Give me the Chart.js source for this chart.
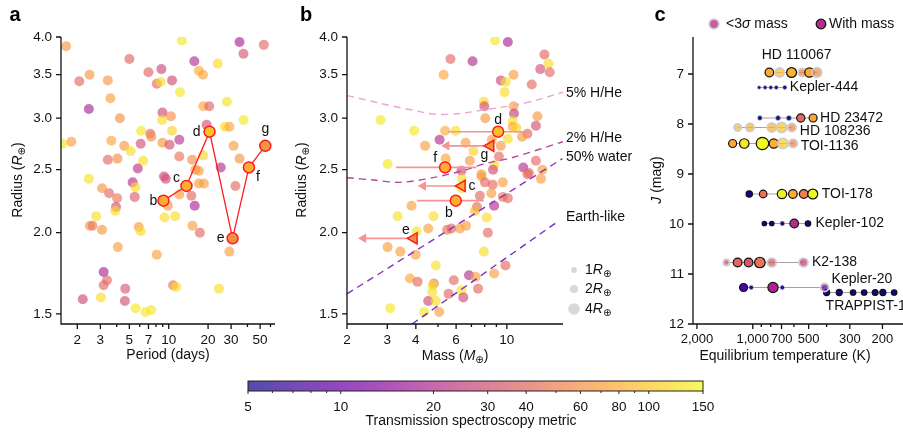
<!DOCTYPE html>
<html>
<head>
<meta charset="utf-8">
<script src="https://cdn.jsdelivr.net/npm/chart.js@4.4.1/dist/chart.umd.min.js"></script>
<style>
  html, body { margin: 0; padding: 0; background: #fff; }
  #wrap { position: relative; width: 903px; height: 435px; overflow: hidden; background: #fff; }
  canvas { position: absolute; }
</style>
</head>
<body>
<div id="wrap">
  <canvas id="chartA" width="290" height="365" style="left:0;top:0"></canvas>
  <canvas id="chartB" width="350" height="365" style="left:290px;top:0"></canvas>
  <canvas id="chartC" width="273" height="365" style="left:630px;top:0"></canvas>
  <canvas id="chartBar" width="500" height="70" style="left:230px;top:365px"></canvas>
</div>
<script>
// ---- panel a: period vs radius of known planets
const aPeriod = [
    1.64, 12.6, 34.8, 53.4, 37.3, 5.0, 15.7, 23.7, 7.0, 8.8,
    2.48, 2.07, 3.42, 10.6, 17.0, 18.3, 8.1, 8.7, 12.2, 3.58,
    27.9, 2.45, 18.4, 20.4, 8.96, 10.4, 4.23, 8.9, 19.5, 37.4,
    26.9, 29.1, 1.54, 1.80, 6.15, 7.23, 7.35, 10.6, 3.64, 4.57,
    5.11, 6.1, 8.96, 10.15, 12.05, 31.3, 3.42, 4.05, 6.38, 5.8,
    12.05, 15.1, 18.3, 34.8, 25.0, 16.0, 2.45, 5.3, 5.56, 3.09,
    3.50, 4.03, 5.49, 3.95, 3.9, 2.79, 2.49, 2.61, 3.09, 5.9,
    6.1, 4.08, 8.1, 3.18, 3.37, 3.18, 2.2, 3.03, 4.65, 4.62,
    5.58, 6.65, 7.35, 10.8, 11.4, 24.2, 29.1, 17.3, 15.2, 11.2,
    9.28, 9.85, 12.05, 14.9, 15.8, 17.0, 18.6, 32.4, 9.2, 9.5,
    17.0
];
const aRadius = [
    3.87, 3.95, 3.93, 3.89, 3.77, 3.70, 3.67, 3.64, 3.53, 3.57,
    3.50, 3.42, 3.43, 3.43, 3.55, 3.50, 3.39, 3.41, 3.29, 3.22,
    3.18, 3.10, 3.13, 3.13, 3.06, 3.02, 3.00, 2.98, 2.93, 2.98,
    2.91, 2.91, 2.74, 2.76, 2.87, 2.84, 2.81, 2.87, 2.77, 2.72,
    2.67, 2.74, 2.75, 2.73, 2.78, 2.72, 2.59, 2.60, 2.58, 2.51,
    2.62, 2.59, 2.63, 2.60, 2.52, 2.50, 2.42, 2.39, 2.35, 2.34,
    2.30, 2.26, 2.27, 2.19, 2.16, 2.12, 2.05, 2.05, 2.02, 2.04,
    2.01, 1.90, 1.85, 1.74, 1.69, 1.66, 1.58, 1.59, 1.64, 1.57,
    1.53, 1.51, 1.52, 1.66, 1.65, 1.64, 1.87, 2.00, 2.05, 2.12,
    2.11, 2.20, 2.29, 2.28, 2.20, 2.38, 2.38, 2.36, 2.44, 2.42,
    2.49
];
const aTsm = [
    65, 130, 18, 40, 32, 38, 20, 120, 38, 28,
    65, 40, 65, 28, 80, 75, 40, 120, 130, 70,
    125, 18, 75, 38, 28, 60, 60, 120, 30, 130,
    120, 75, 130, 70, 130, 40, 60, 110, 75, 65,
    120, 30, 65, 30, 22, 70, 40, 60, 120, 22,
    45, 60, 110, 65, 20, 65, 125, 20, 120, 65,
    40, 45, 35, 30, 120, 120, 70, 45, 65, 65,
    120, 70, 70, 18, 40, 40, 28, 120, 33, 30,
    130, 130, 130, 45, 120, 120, 70, 40, 70, 120,
    120, 65, 70, 40, 18, 70, 70, 40, 28, 30,
    70
];

// ---- HD 110067 planets
const hdLetters = ['b', 'c', 'd', 'e', 'f', 'g'];
const hdPeriod = [9.11, 13.67, 20.52, 30.79, 41.06, 54.77];
const hdRadius = [2.24, 2.36, 2.86, 1.96, 2.52, 2.72];
const hdTsm = [80, 80, 95, 60, 80, 65];
const hdMass = [5.98, 6.36, 9.16, 3.92, 5.37, 8.48];
const hdMassLo = [4.05, 4.31, 5.54, 2.36, 3.27, 5.45];
const hdMassHi = [7.93, null, 12.8, null, 7.37, null];
const hdUpper = [false, true, false, true, false, true];

// ---- panel b: mass vs radius
const bMass = [
    8.88, 10.1, 14.6, 15.2, 5.67, 7.08, 14.0, 15.4, 5.29, 9.41,
    9.89, 10.7, 12.85, 9.78, 2.80, 7.93, 7.97, 8.05, 10.7, 10.75,
    10.6, 10.6, 11.0, 13.6, 13.4, 12.3, 11.66, 10.1, 3.93, 5.37,
    5.97, 5.08, 4.39, 6.6, 7.14, 5.4, 3.01, 6.89, 9.23, 9.4,
    8.6, 13.4, 14.3, 11.8, 8.8, 8.7, 6.33, 7.74, 12.5, 6.36,
    6.33, 7.74, 8.02, 8.67, 8.55, 9.6, 9.6, 10.1, 8.8, 7.62,
    7.4, 7.25, 8.17, 3.83, 3.33, 4.78, 4.04, 4.53, 5.48, 5.72,
    6.23, 6.63, 8.26, 3.01, 3.42, 3.99, 7.93, 4.89, 9.86, 8.8,
    6.83, 7.3, 3.77, 4.07, 4.80, 4.74, 4.72, 5.86, 5.56, 6.33,
    7.48, 6.45, 4.53, 4.89, 5.06, 4.35, 3.09, 12.3, 14.1
];
const bRadius = [
    3.95, 3.93, 3.76, 3.64, 3.70, 3.67, 3.57, 3.53, 3.50, 3.43,
    3.41, 3.50, 3.38, 3.29, 2.98, 3.18, 3.13, 3.00, 3.13, 3.05,
    2.97, 2.91, 2.90, 3.02, 2.92, 2.84, 2.81, 2.79, 2.87, 2.87,
    2.87, 2.78, 2.72, 2.75, 2.67, 2.60, 2.55, 2.58, 2.62, 2.72,
    2.78, 2.58, 2.50, 2.52, 2.54, 2.50, 2.49, 2.46, 2.47, 2.42,
    2.34, 2.44, 2.39, 2.37, 2.30, 2.39, 2.27, 2.26, 2.20, 2.28,
    2.19, 2.16, 2.11, 2.20, 2.12, 2.12, 2.01, 2.03, 2.02, 2.03,
    2.03, 2.05, 2.00, 1.90, 1.87, 1.85, 1.87, 1.78, 1.78, 1.73,
    1.72, 1.71, 1.70, 1.68, 1.67, 1.66, 1.62, 1.69, 1.61, 1.63,
    1.64, 1.59, 1.57, 1.57, 1.51, 1.51, 1.53, 2.46, 2.42
];
const bTsm = [
    130, 18, 38, 120, 40, 20, 30, 40, 75, 28,
    120, 70, 40, 120, 130, 120, 30, 65, 70, 24,
    120, 75, 110, 65, 30, 40, 65, 120, 130, 80,
    120, 20, 70, 70, 110, 75, 130, 65, 40, 65,
    70, 40, 70, 20, 120, 28, 28, 70, 40, 120,
    120, 70, 40, 40, 70, 70, 45, 40, 20, 40,
    40, 90, 120, 70, 125, 120, 125, 70, 45, 40,
    70, 70, 40, 70, 70, 70, 120, 120, 40, 70,
    20, 70, 75, 40, 45, 120, 120, 40, 40, 120,
    40, 28, 28, 120, 70, 130, 130, 40, 70
];

// composition curves (mass, radius)
const h5Mass = [2.0, 3.65, 5.27, 8.42, 12.2, 17.6];
const h5Radius = [3.25, 3.10, 3.04, 3.10, 3.17, 3.29];
const h2Mass = [2.0, 2.61, 3.41, 4.76, 6.67, 7.88, 10.6, 17.6];
const h2Radius = [2.43, 2.41, 2.39, 2.43, 2.50, 2.55, 2.61, 2.76];
const waterMass = [2.0, 17.5];
const waterRadius = [1.61, 2.60];
const earthMass = [3.85, 16.7];
const earthRadius = [1.447, 2.08];

// ---- panel c: systems
const cSystems = ['HD 110067', 'Kepler-444', 'HD 23472', 'HD 108236', 'TOI-1136',
    'TOI-178', 'Kepler-102', 'K2-138', 'Kepler-20', 'TRAPPIST-1'];
const cJmag = [6.97, 7.27, 7.88, 8.07, 8.39, 9.40, 9.99, 10.77, 11.27, 11.37];
const cTeq = [
    [814, 716, 618, 542, 495, 451],
    [924, 858, 800, 747, 672],
    [916, 731, 639, 551, 473],
    [1207, 1036, 790, 699, 616],
    [1284, 1112, 887, 771, 688, 606],
    [1045, 879, 696, 608, 531, 475],
    [866, 790, 693, 598, 504],
    [1388, 1207, 1054, 916, 790, 533],
    [1121, 1020, 778, 693, 410],
    [400, 342, 288, 251, 219, 199, 173]
];
const cTsm = [
    [80, 95, 85, 55, 80, 60],
    [3, 3, 3, 3, 3],
    [3, 3, 3, 40, 75],
    [95, 85, 85, 100, 55],
    [80, 130, 150, 80, 105, 55],
    [3, 45, 140, 80, 50, 150],
    [3, 3, 3, 20, 3],
    [30, 40, 33, 45, 35, 25],
    [8, 3, 18, 3, 11],
    [3, 3, 3, 3, 3, 3, 3]
];
const cRp = [
    [2.2, 2.4, 2.9, 1.9, 2.6, 2.7],
    [0.4, 0.45, 0.45, 0.5, 0.55],
    [0.7, 0.75, 0.8, 2.0, 1.9],
    [1.5, 2.0, 2.4, 3.0, 2.0],
    [1.9, 2.7, 4.6, 2.5, 3.2, 2.0],
    [1.2, 1.7, 2.6, 2.2, 2.3, 2.9],
    [0.6, 0.6, 0.7, 2.2, 0.9],
    [1.1, 2.3, 2.3, 3.3, 2.3, 2.3],
    [1.9, 0.6, 3.1, 0.6, 1.9],
    [1.1, 1.1, 0.9, 0.9, 1.0, 1.1, 0.9]
];
const cHasMass = [
    [1, 0, 1, 0, 1, 0],
    [0, 0, 0, 0, 0],
    [0, 0, 0, 1, 1],
    [0, 0, 0, 0, 0],
    [1, 1, 1, 1, 0, 0],
    [1, 1, 1, 1, 1, 1],
    [1, 1, 0, 1, 1],
    [0, 1, 1, 1, 0, 0],
    [1, 0, 1, 0, 0],
    [1, 1, 1, 1, 1, 1, 1]
];

// ---- tick values
const aXMajor = [2, 3, 5, 7, 10, 20, 30, 50];
const aXMinor = [4, 6, 8, 9, 40, 60];
const radiusTicks = [1.5, 2, 2.5, 3, 3.5, 4];
const bXMajor = [2, 3, 4, 6, 10];
const bXMinor = [5, 7, 8, 9];
const cXMajor = [2000, 1000, 700, 500, 300, 200];
const cXMinor = [900, 800, 600, 400];
const cYTicks = [7, 8, 9, 10, 11, 12];
const barMajor = [5, 10, 20, 30, 40, 60, 80, 100, 150];
const barMinor = [6, 7, 8, 9, 50, 70, 90];

// ---- styling helpers
const FONT = '"Liberation Sans", Arial, Helvetica, sans-serif';
const TICK_FONT_SIZE = 13.5;
Chart.defaults.font.family = FONT;
Chart.defaults.font.size = 14;
Chart.defaults.color = '#111';

const PLASMA = [[13, 8, 135], [65, 4, 157], [106, 0, 168], [143, 13, 164], [177, 42, 144],
    [204, 71, 120], [225, 100, 98], [242, 132, 75], [252, 166, 54], [252, 206, 37], [240, 249, 33]];

function plasmaAt(f) {
    f = Math.min(1, Math.max(0, f));
    const p = f * 10;
    const i = Math.min(9, Math.floor(p));
    const t = p - i;
    return PLASMA[i].map((c, k) => c + (PLASMA[i + 1][k] - c) * t);
}

function tsmFraction(tsm) {
    return Math.log(tsm / 5) / Math.log(30);
}

function tsmColor(tsm, alpha) {
    const [r, g, b] = plasmaAt(tsmFraction(tsm));
    return `rgba(${Math.round(r)},${Math.round(g)},${Math.round(b)},${alpha})`;
}

function tsmTint(tsm, alpha) {
    const c = plasmaAt(tsmFraction(tsm)).map((v) => Math.round(v * alpha + 255 * (1 - alpha)));
    return `rgb(${c[0]},${c[1]},${c[2]})`;
}

function markerSize(rp) {
    return 2.9 * Math.sqrt(rp);
}

function drawRich(ctx, parts, x, y, align, angle) {
    const fonts = {
        n: `14px ${FONT}`,
        i: `italic 14px ${FONT}`,
        s: `10px "DejaVu Sans", ${FONT}`
    };
    ctx.save();
    ctx.translate(x, y);
    if (angle) {
        ctx.rotate(angle);
    }
    let total = 0;
    const widths = parts.map(([text, style]) => {
        ctx.font = fonts[style];
        const w = ctx.measureText(text).width;
        total += w;
        return w;
    });
    let cx = align === 'center' ? -total / 2 : (align === 'right' ? -total : 0);
    ctx.fillStyle = '#111';
    ctx.textBaseline = 'middle';
    ctx.textAlign = 'left';
    parts.forEach(([text, style], i) => {
        ctx.font = fonts[style];
        ctx.fillText(text, cx, style === 's' ? 4 : 0);
        cx += widths[i];
    });
    ctx.restore();
}

function makeAxisPlugin(xMajor, xMinor, yMajor) {
    return {
        id: 'axisDecor',
        afterDraw(chart) {
            const { ctx, chartArea } = chart;
            const { left, right, top, bottom } = chartArea;
            const xs = chart.scales.x;
            const ys = chart.scales.y;
            ctx.save();
            ctx.strokeStyle = '#111';
            ctx.lineWidth = 1.3;
            ctx.beginPath();
            ctx.moveTo(left, top);
            ctx.lineTo(left, bottom);
            ctx.lineTo(right, bottom);
            xMajor.forEach((v) => {
                const px = xs.getPixelForValue(v);
                ctx.moveTo(px, bottom);
                ctx.lineTo(px, bottom + 5);
            });
            xMinor.forEach((v) => {
                const px = xs.getPixelForValue(v);
                ctx.moveTo(px, bottom);
                ctx.lineTo(px, bottom + 3);
            });
            yMajor.forEach((v) => {
                const py = ys.getPixelForValue(v);
                ctx.moveTo(left, py);
                ctx.lineTo(left - 5, py);
            });
            ctx.stroke();
            ctx.restore();
        }
    };
}

function makePanelText(letter, letterAt, xTitle, xTitleAt, yTitle, yTitleAt) {
    return {
        id: 'panelText',
        afterDraw(chart) {
            const { ctx } = chart;
            ctx.save();
            ctx.font = `bold 20px ${FONT}`;
            ctx.fillStyle = '#000';
            ctx.textAlign = 'center';
            ctx.textBaseline = 'middle';
            ctx.fillText(letter, letterAt[0], letterAt[1]);
            ctx.restore();
            drawRich(ctx, xTitle, xTitleAt[0], xTitleAt[1], 'center', 0);
            drawRich(ctx, yTitle, yTitleAt[0], yTitleAt[1], 'center', -Math.PI / 2);
        }
    };
}

function makeAxis(type, min, max, tickValues, format, size, isY, extra, fontSize) {
    return Object.assign({
        type,
        min,
        max,
        grid: { display: false, drawTicks: false, tickLength: 0 },
        border: { display: false },
        ticks: {
            padding: isY ? 9 : 8,
            autoSkip: false,
            maxRotation: 0,
            color: '#111',
            font: { size: fontSize || TICK_FONT_SIZE },
            callback: format
        },
        afterBuildTicks: (scale) => {
            scale.ticks = tickValues.map((value) => ({ value }));
        },
        afterFit: (scale) => {
            // the layout padding already leaves room for labels
            scale.paddingLeft = 0;
            scale.paddingRight = 0;
            scale.paddingTop = 0;
            scale.paddingBottom = 0;
            if (isY) {
                scale.width = size;
            } else {
                scale.height = size;
            }
        }
    }, extra || {});
}

function baseOptions(padding, scales) {
    return {
        responsive: false,
        animation: false,
        events: [],
        layout: { padding, autoPadding: false },
        plugins: { legend: { display: false }, tooltip: { enabled: false } },
        scales
    };
}

const radiusTitle = [['Radius (', 'n'], ['R', 'i'], ['\u2295', 's'], [')', 'n']];
const FIELD_ALPHA = 0.64;

// ---------------- panel a
const aLetterOffsets = [[-10, 0], [-10, -8], [-13, 0], [-12, 0], [9, 10], [0, -17]];

const lettersA = {
    id: 'lettersA',
    afterDatasetsDraw(chart) {
        const { ctx, scales: { x, y } } = chart;
        ctx.save();
        ctx.font = `14px ${FONT}`;
        ctx.fillStyle = '#111';
        ctx.textAlign = 'center';
        ctx.textBaseline = 'middle';
        hdLetters.forEach((letter, i) => {
            const off = aLetterOffsets[i];
            ctx.fillText(letter, x.getPixelForValue(hdPeriod[i]) + off[0], y.getPixelForValue(hdRadius[i]) + off[1]);
        });
        ctx.restore();
    }
};

new Chart(document.getElementById('chartA'), {
    type: 'scatter',
    data: {
        datasets: [
            {
                data: hdPeriod.map((p, i) => ({ x: p, y: hdRadius[i] })),
                showLine: true,
                borderColor: '#ff1a1a',
                borderWidth: 1.3,
                pointRadius: 5.5,
                pointBackgroundColor: hdTsm.map((t) => tsmColor(t, 1)),
                pointBorderColor: '#ff1a1a',
                pointBorderWidth: 1.5
            },
            {
                data: aPeriod.map((p, i) => ({ x: p, y: aRadius[i] })),
                pointRadius: 5,
                pointBorderWidth: 0,
                pointBackgroundColor: aTsm.map((t) => tsmColor(t, FIELD_ALPHA))
            }
        ]
    },
    options: baseOptions({ left: 0, right: 15, top: 37, bottom: 0 }, {
        x: makeAxis('logarithmic', 1.5, 65, aXMajor, (v) => String(v), 41, false),
        y: makeAxis('logarithmic', 1.447, 4.0, radiusTicks, (v) => v.toFixed(1), 61, true)
    }),
    plugins: [
        makeAxisPlugin(aXMajor, aXMinor, radiusTicks),
        makePanelText('a', [15, 15], [['Period (days)', 'n']], [168, 355], radiusTitle, [18, 180]),
        lettersA
    ]
});

// ---------------- panel b
const bLetterOffsets = [[-7, 12], [10, 0], [0, -12], [-8, -8], [-10, -9], [-6, 9]];
const compLabels = [['5% H/He', 93], ['2% H/He', 138], ['50% water', 157], ['Earth-like', 217]];
const sizeLegend = [1, 2, 4];

const extrasB = {
    id: 'extrasB',
    afterDraw(chart) {
        const { ctx, scales: { x, y } } = chart;
        ctx.save();
        ctx.font = `14px ${FONT}`;
        ctx.fillStyle = '#111';
        ctx.textAlign = 'center';
        ctx.textBaseline = 'middle';
        hdLetters.forEach((letter, i) => {
            const off = bLetterOffsets[i];
            ctx.fillText(letter, x.getPixelForValue(hdMass[i]) + off[0], y.getPixelForValue(hdRadius[i]) + off[1]);
        });
        ctx.textAlign = 'left';
        compLabels.forEach(([text, py]) => ctx.fillText(text, 276, py));
        const legendY = [270, 289, 309];
        sizeLegend.forEach((rp, i) => {
            ctx.beginPath();
            ctx.arc(284, legendY[i], markerSize(rp), 0, Math.PI * 2);
            ctx.fillStyle = '#d9d9d9';
            ctx.fill();
        });
        ctx.restore();
        sizeLegend.forEach((rp, i) => {
            drawRich(ctx, [[String(rp), 'n'], ['R', 'i'], ['\u2295', 's']], 295, legendY[i], 'left', 0);
        });
    }
};

const errorSets = hdMass.map((m, i) => ({
    data: [
        { x: hdMassLo[i], y: hdRadius[i] },
        { x: hdUpper[i] ? m : hdMassHi[i], y: hdRadius[i] }
    ],
    showLine: true,
    borderColor: '#f79393',
    borderWidth: 1.6,
    pointRadius: hdUpper[i] ? [5.5, 0] : 0,
    pointStyle: 'triangle',
    rotation: 270,
    pointBackgroundColor: '#f79393',
    pointBorderWidth: 0
}));

function curve(masses, radii, color, tension) {
    return {
        data: masses.map((m, i) => ({ x: m, y: radii[i] })),
        showLine: true,
        borderColor: color,
        borderWidth: 1.4,
        borderDash: [7, 5],
        pointRadius: 0,
        tension
    };
}

new Chart(document.getElementById('chartB'), {
    type: 'scatter',
    data: {
        datasets: [
            {
                data: hdMass.map((m, i) => ({ x: m, y: hdRadius[i] })),
                pointStyle: hdUpper.map((u) => (u ? 'triangle' : 'circle')),
                rotation: hdUpper.map((u) => (u ? 270 : 0)),
                pointRadius: hdUpper.map((u) => (u ? 6.5 : 5.5)),
                pointBackgroundColor: hdTsm.map((t) => tsmColor(t, 1)),
                pointBorderColor: '#ff1a1a',
                pointBorderWidth: 1.5
            },
            ...errorSets,
            curve(h5Mass, h5Radius, '#eaa5d6', 0.4),
            curve(h2Mass, h2Radius, '#b8449f', 0.3),
            curve(waterMass, waterRadius, '#8a30c4', 0),
            curve(earthMass, earthRadius, '#7030bd', 0),
            {
                data: bMass.map((m, i) => ({ x: m, y: bRadius[i] })),
                pointRadius: 5,
                pointBorderWidth: 0,
                pointBackgroundColor: bTsm.map((t) => tsmColor(t, FIELD_ALPHA))
            }
        ]
    },
    options: baseOptions({ left: 0, right: 77, top: 37, bottom: 0 }, {
        x: makeAxis('logarithmic', 2, 17.6, bXMajor, (v) => String(v), 41, false),
        y: makeAxis('logarithmic', 1.447, 4.0, radiusTicks, (v) => v.toFixed(1), 57, true)
    }),
    plugins: [
        makeAxisPlugin(bXMajor, bXMinor, radiusTicks),
        makePanelText('b', [16, 15], [['Mass (', 'n'], ['M', 'i'], ['\u2295', 's'], [')', 'n']], [165, 356], radiusTitle, [12, 180]),
        extrasB
    ]
});

// ---------------- panel c
const cLabelPlace = [
    { at: 'mid', dx: 3.5, dy: -17 },
    { at: 'last', dx: 5, dy: 0 },
    { at: 'last', dx: 7, dy: 0 },
    { at: 'last', dx: 8, dy: 3.5 },
    { at: 'last', dx: 7.5, dy: 2.5 },
    { at: 'last', dx: 9, dy: 0 },
    { at: 'last', dx: 7.5, dy: 0 },
    { at: 'last', dx: 8.5, dy: 0 },
    { at: 'last', dx: 7, dy: -8 },
    { at: 'first', dx: -1, dy: 13.5 }
];

const extrasC = {
    id: 'extrasC',
    afterDraw(chart) {
        const { ctx, scales: { x, y } } = chart;
        ctx.save();
        ctx.font = `14px ${FONT}`;
        ctx.fillStyle = '#111';
        ctx.textBaseline = 'middle';
        cSystems.forEach((name, s) => {
            const place = cLabelPlace[s];
            const temps = cTeq[s];
            const py = y.getPixelForValue(cJmag[s]) + place.dy;
            if (place.at === 'mid') {
                const px = (x.getPixelForValue(temps[0]) + x.getPixelForValue(temps[temps.length - 1])) / 2;
                ctx.textAlign = 'center';
                ctx.fillText(name, px + place.dx, py);
            } else {
                const t = place.at === 'last' ? temps[temps.length - 1] : temps[0];
                ctx.textAlign = 'left';
                ctx.fillText(name, x.getPixelForValue(t) + place.dx, py);
            }
        });
        // legend
        ctx.beginPath();
        ctx.arc(84, 24, 4.8, 0, Math.PI * 2);
        ctx.fillStyle = tsmColor(22, 0.8);
        ctx.fill();
        ctx.strokeStyle = '#cccccc';
        ctx.lineWidth = 1.8;
        ctx.stroke();
        ctx.beginPath();
        ctx.arc(191, 24, 4.8, 0, Math.PI * 2);
        ctx.fillStyle = tsmColor(20, 1);
        ctx.fill();
        ctx.strokeStyle = '#111';
        ctx.lineWidth = 1.3;
        ctx.stroke();
        ctx.restore();
        drawRich(ctx, [['<3', 'n'], ['\u03c3', 'i'], [' mass', 'n']], 96, 24, 'left', 0);
        drawRich(ctx, [['With mass', 'n']], 199, 24, 'left', 0);
    }
};

const cDatasets = cSystems.map((name, s) => ({
    data: cTeq[s].map((t) => ({ x: t, y: cJmag[s] })),
    showLine: true,
    borderColor: '#a3a3a3',
    borderWidth: 1,
    pointRadius: cRp[s].map(markerSize),
    pointBackgroundColor: cTsm[s].map((t, i) => tsmColor(t, cHasMass[s][i] ? 1 : (cRp[s][i] < 1 ? 0.95 : 0.75))),
    pointBorderColor: cHasMass[s].map((m) => (m ? '#111' : '#cdcdcd')),
    pointBorderWidth: cHasMass[s].map((m, i) => (m ? 1.2 : (cRp[s][i] < 1 ? 0.6 : 1.8)))
}));

new Chart(document.getElementById('chartC'), {
    type: 'scatter',
    data: { datasets: cDatasets },
    options: baseOptions({ left: 0, right: 0, top: 37, bottom: 0 }, {
        x: makeAxis('logarithmic', 155, 2100, cXMajor, (v) => v.toLocaleString('en-US'), 41, false, { reverse: true }, 13),
        y: makeAxis('linear', 6.26, 12, cYTicks, (v) => String(v), 63, true, { reverse: true })
    }),
    plugins: [
        makeAxisPlugin(cXMajor, cXMinor, cYTicks),
        makePanelText('c', [30, 15], [['Equilibrium temperature (K)', 'n']], [155, 356], [['J', 'i'], [' (mag)', 'n']], [27, 180]),
        extrasC
    ]
});

// ---------------- colour bar
const colorbarDecor = {
    id: 'colorbarDecor',
    afterDraw(chart) {
        const { ctx, chartArea: { left, right, top, bottom }, scales: { x } } = chart;
        ctx.save();
        const grad = ctx.createLinearGradient(left, 0, right, 0);
        for (let i = 0; i <= 30; i++) {
            const tsm = 5 * Math.pow(30, i / 30);
            grad.addColorStop((x.getPixelForValue(tsm) - left) / (right - left), tsmTint(tsm, 0.72));
        }
        ctx.fillStyle = grad;
        ctx.fillRect(left, top, right - left, bottom - top);
        ctx.strokeStyle = '#222';
        ctx.lineWidth = 1;
        ctx.strokeRect(left, top, right - left, bottom - top);
        ctx.beginPath();
        barMajor.forEach((v) => {
            const px = x.getPixelForValue(v);
            ctx.moveTo(px, bottom);
            ctx.lineTo(px, bottom + 3);
        });
        barMinor.forEach((v) => {
            const px = x.getPixelForValue(v);
            ctx.moveTo(px, bottom);
            ctx.lineTo(px, bottom + 2);
        });
        ctx.stroke();
        ctx.font = `14px ${FONT}`;
        ctx.fillStyle = '#111';
        ctx.textAlign = 'center';
        ctx.textBaseline = 'middle';
        ctx.fillText('Transmission spectroscopy metric', 241, 56);
        ctx.restore();
    }
};

new Chart(document.getElementById('chartBar'), {
    type: 'scatter',
    data: { datasets: [] },
    options: baseOptions({ left: 18, right: 27, top: 16, bottom: 0 }, {
        x: makeAxis('logarithmic', 5, 150, barMajor, (v) => String(v), 44, false, {}),
        y: { display: false, min: 0, max: 1 }
    }),
    plugins: [colorbarDecor]
});
</script>
</body>
</html>
